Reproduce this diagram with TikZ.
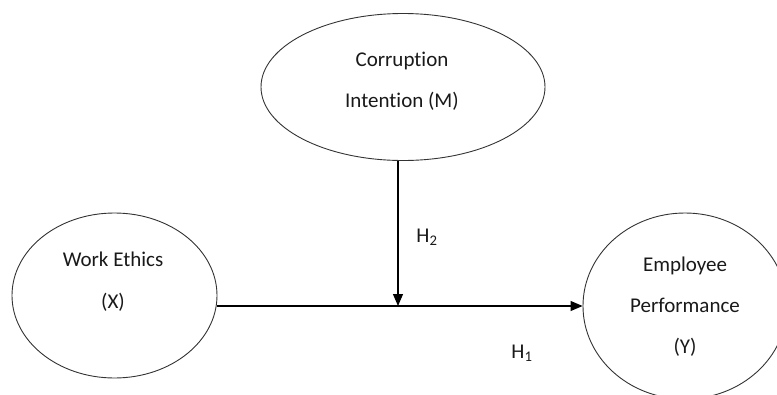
\documentclass[tikz,border=0pt]{standalone}
\usepackage{fontspec}
\setmainfont[Ligatures={NoCommon}]{Carlito}
\usetikzlibrary{shapes.geometric,arrows.meta}
\begin{document}
\begin{tikzpicture}[x=1pt,y=-1pt,
  var/.style={draw=black!80, line width=0.9pt, ellipse, inner sep=0pt},
  lbl/.style={anchor=base, inner sep=0pt, font=\fontsize{21}{24}\selectfont, text=black!90},
  arr/.style={line width=1.1pt, -{Triangle[length=12pt,width=10pt]}}]
\useasboundingbox (0,0) rectangle (777,394);
\begin{scope}
\clip (0,0) rectangle (777,394);
\node[var, minimum width=284pt, minimum height=147pt] (M) at (403,87) {};
\node[var, minimum width=205pt, minimum height=165pt] (X) at (114.5,295.5) {};
\node[var, minimum width=204pt, minimum height=186pt] (Y) at (685,306) {};
\end{scope}
\node[lbl] (m1) at (402,66) {Corruption};
\node[lbl] (m2) at (402,107) {Intention (M)};
\node[lbl] (x1) at (113,266) {Work Ethics};
\node[lbl] (x2) at (113,308) {(X)};
\node[lbl] (y1) at (685,271) {Employee};
\node[lbl] (y2) at (685,312) {Performance};
\node[lbl] (y3) at (685,353) {(Y)};
\coordinate (J) at (398,306);
\draw[arr] ([yshift=-10.5pt]X.east) -- (Y.west);
\draw[arr] (J |- M.south) -- (J);
\node[lbl] (h2) at (427,242) {H\textsubscript{2}};
\node[lbl] (h1) at (522,358) {H\textsubscript{1}};
\end{tikzpicture}
\end{document}
